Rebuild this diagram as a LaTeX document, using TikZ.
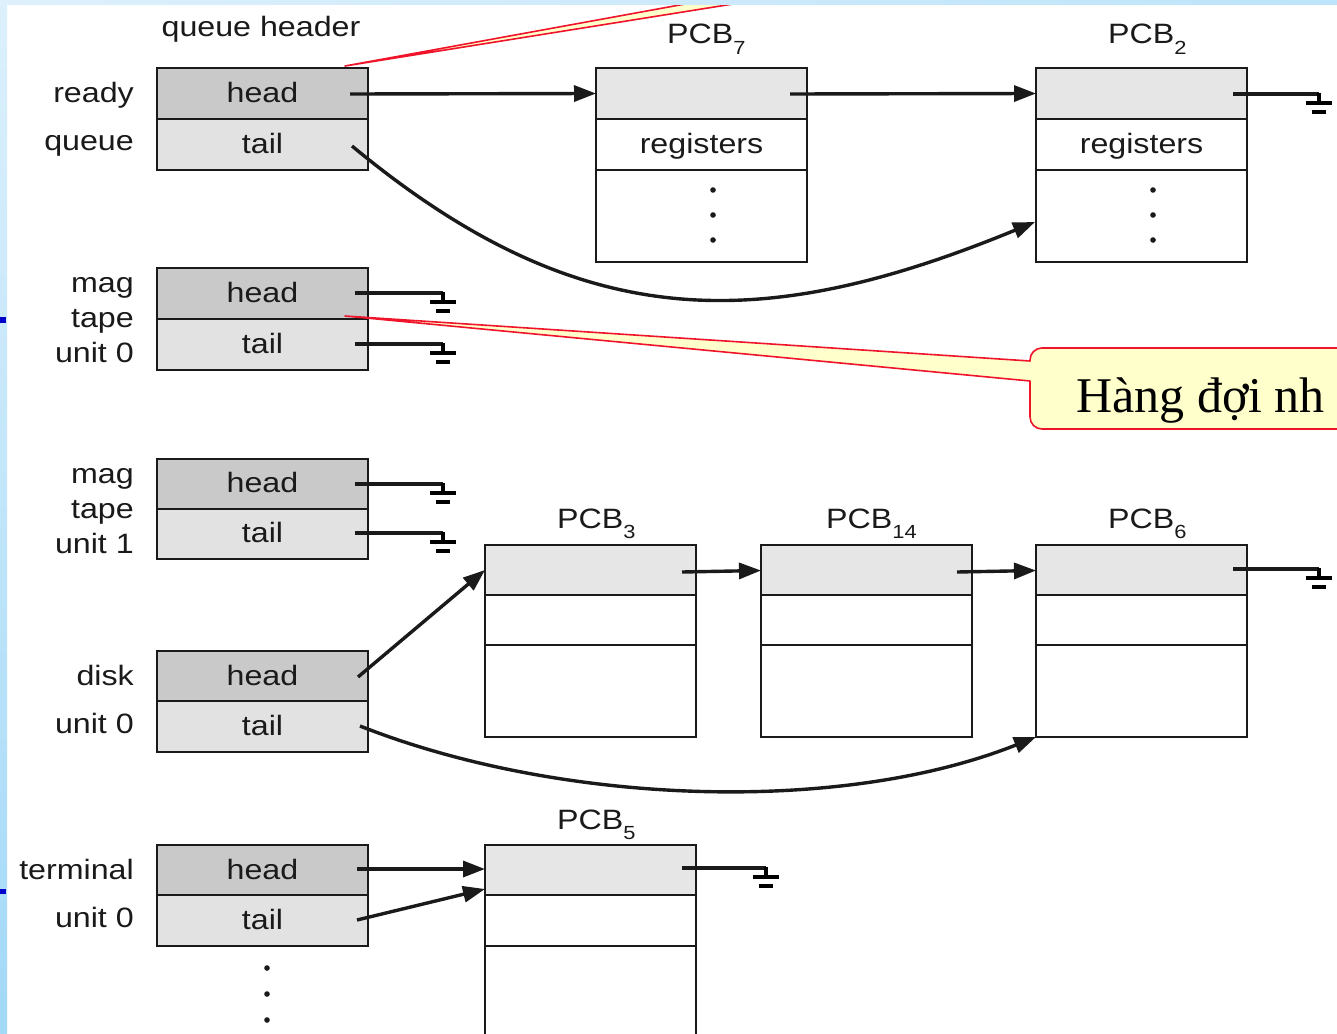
\documentclass[tikz,border=0pt]{standalone}
\usepackage{fontspec}
\setmainfont[FakeStretch=1.15]{Liberation Sans}
\newfontfamily\calloutfont{Liberation Serif}
\usetikzlibrary{arrows.meta}
\definecolor{hgray}{HTML}{C9C9C9}
\definecolor{tgray}{HTML}{E2E2E2}
\definecolor{pgray}{HTML}{E6E6E6}
\definecolor{ink}{HTML}{1A1A1A}
\definecolor{cyel}{HTML}{FFFFCC}
\definecolor{cred}{HTML}{F0142A}
\definecolor{slideblue}{HTML}{0000CC}
\definecolor{stripA}{HTML}{DDF0FC}
\definecolor{stripB}{HTML}{A3D9F7}
\definecolor{stripC}{HTML}{BDE4FA}
\tikzset{
  gnd/.pic={
    \draw[line width=3.2pt, line cap=butt] (0,-1.5) -- (0,9);
    \draw[line width=3.2pt] (-13,9) -- (13,9);
    \draw[line width=3.2pt] (-7,18) -- (7,18);
  }
}
\newcommand{\pcbname}[1]{PCB\raisebox{-0.36em}{\fontsize{19}{20}\selectfont #1}}
\begin{document}
\begin{tikzpicture}[x=1pt,y=-1pt,
  every node/.style={font=\fontsize{28}{31}\selectfont, text=ink},
  cell/.style={draw=ink, line width=2.8pt, anchor=north west, minimum width=211pt,
    inner sep=0pt, outer sep=0pt, text height=20pt, text depth=3pt},
  hcell/.style={cell, fill=hgray, minimum height=51pt},
  tcell/.style={cell, fill=tgray, minimum height=51pt},
  pcella/.style={cell, fill=pgray, minimum height=51pt},
  pcellb/.style={cell, fill=white, minimum height=51pt},
  pcellc/.style={cell, fill=white, minimum height=92pt},
  lab/.style={anchor=base east, inner sep=0pt},
  pcblab/.style={anchor=base west, inner sep=0pt},
  ptr/.style={draw=ink, line width=3.4pt},
  arr/.style={ptr, -{Triangle[length=22pt,width=16pt]}},
  callout/.style={draw=cred, fill=cyel, line width=1.6pt, line join=round},
  dotmark/.style={fill=ink, draw=none}
]
\useasboundingbox (0,0) rectangle (1337,1033);
\clip (0,0) rectangle (1337,1033);
\fill[white] (0,0) rectangle (1337,1033);

% ---- queue header column ----
\node[anchor=base, inner sep=0pt] (qh) at (261,37) {queue header};

\node[hcell] (rqh) at (157,68) {head};
\node[tcell] (rqt) at (157,119) {tail};
\node[lab] (l1) at (134,102) {ready};
\node[lab] (l2) at (134,150) {queue};

\node[hcell] (m0h) at (157,268) {head};
\node[tcell] (m0t) at (157,319) {tail};
\node[lab] (l3) at (134,292) {mag};
\node[lab] (l4) at (134,327) {tape};
\node[lab] (l5) at (134,362) {unit 0};

\node[hcell, minimum height=50pt] (m1h) at (157,459) {head};
\node[tcell, minimum height=50pt] (m1t) at (157,509) {tail};
\node[lab] (l6) at (134,483) {mag};
\node[lab] (l7) at (134,518) {tape};
\node[lab] (l8) at (134,553) {unit 1};

\node[hcell] (dh) at (157,651) {head};
\node[tcell] (dt) at (157,701) {tail};
\node[lab] (l9) at (134,685) {disk};
\node[lab] (l10) at (134,733) {unit 0};

\node[hcell] (th) at (157,845) {head};
\node[tcell] (tt) at (157,895) {tail};
\node[lab] (l11) at (134,879) {terminal};
\node[lab] (l12) at (134,927) {unit 0};

\fill[dotmark] (267,968) circle (2.8);
\fill[dotmark] (267,994) circle (2.8);
\fill[dotmark] (267,1020) circle (2.8);

% ---- PCBs ----
\node[pcblab] (n7) at (667,44) {\pcbname{7}};
\node[pcella] (p7a) at (596,68) {};
\node[pcellb] (p7b) at (596,119) {registers};
\node[pcellc] (p7c) at (596,170) {};
\fill[dotmark] (713,190) circle (2.8);
\fill[dotmark] (713,215) circle (2.8);
\fill[dotmark] (713,240) circle (2.8);

\node[pcblab] (n2) at (1108,44) {\pcbname{2}};
\node[pcella] (p2a) at (1036,68) {};
\node[pcellb] (p2b) at (1036,119) {registers};
\node[pcellc] (p2c) at (1036,170) {};
\fill[dotmark] (1153,190) circle (2.8);
\fill[dotmark] (1153,215) circle (2.8);
\fill[dotmark] (1153,240) circle (2.8);

\node[pcblab] (n3) at (557,528) {\pcbname{3}};
\node[pcella] (p3a) at (485,545) {};
\node[pcellb] (p3b) at (485,595) {};
\node[pcellc] (p3c) at (485,645) {};

\node[pcblab] (n14) at (826,528) {\pcbname{14}};
\node[pcella] (p14a) at (761,545) {};
\node[pcellb] (p14b) at (761,595) {};
\node[pcellc] (p14c) at (761,645) {};

\node[pcblab] (n6) at (1108,528) {\pcbname{6}};
\node[pcella] (p6a) at (1036,545) {};
\node[pcellb] (p6b) at (1036,595) {};
\node[pcellc] (p6c) at (1036,645) {};

\node[pcblab] (n5) at (557,829) {\pcbname{5}};
\node[pcella] (p5a) at (485,845) {};
\node[pcellb] (p5b) at (485,895) {};
\node[pcellc, minimum height=110pt] (p5c) at (485,946) {};

% ---- pointer start points and ground points ----
\coordinate (s1) at (350,94);
\coordinate (s2) at (352,146);
\coordinate (s3) at (790,94);
\coordinate (s4) at (1233,94);
\coordinate (g4) at (1319,94);
\coordinate (s5) at (355,293);
\coordinate (g5) at (443,293);
\coordinate (s6) at (355,344);
\coordinate (g6) at (443,344);
\coordinate (s7) at (355,484);
\coordinate (g7) at (443,484);
\coordinate (s8) at (355,533);
\coordinate (g8) at (443,533);
\coordinate (s9) at (358,677);
\coordinate (s10) at (360,726);
\coordinate (s11) at (682,572);
\coordinate (s12) at (957,572);
\coordinate (s13) at (1233,569);
\coordinate (g13) at (1319,569);
\coordinate (s14) at (357,869);
\coordinate (s15) at (357,920);
\coordinate (s16) at (682,868);
\coordinate (g16) at (766,868);
\coordinate (e2) at (1035,222);
\coordinate (e10) at (1036,737);
\coordinate (e9) at (485,570);
\coordinate (e15) at (485,889);
\coordinate (e14) at (485,869);

% ---- connectors ----
\draw[arr] (s1) -- (p7a.west);
\draw[arr] (s3) -- (p2a.west);
\draw[arr] (s2) .. controls (580,335) and (760,335) .. (e2);
\draw[ptr] (s4) -- (g4); \pic at (g4) {gnd};
\draw[ptr] (s5) -- (g5); \pic at (g5) {gnd};
\draw[ptr, line width=4pt] (s6) -- (g6); \pic at (g6) {gnd};
\draw[ptr] (s7) -- (g7); \pic at (g7) {gnd};
\draw[ptr] (s8) -- (g8); \pic at (g8) {gnd};
\draw[arr] (s9) -- (e9);
\draw[arr] (s10) .. controls (560,805) and (840,815) .. (e10);
\draw[arr] (s11) -- (p14a.west);
\draw[arr] (s12) -- (p6a.west);
\draw[ptr] (s13) -- (g13); \pic at (g13) {gnd};
\draw[arr] (s14) -- (e14);
\draw[arr] (s15) -- (e15);
\draw[ptr] (s16) -- (g16); \pic at (g16) {gnd};

% ---- callouts ----
\draw[callout] (345,66) -- (729,-4) -- (783,-4) -- cycle;
\draw[callout] (1030,361) -- (345,316) -- (1030,381)
  [rounded corners=12pt] -- (1030,429) -- (1370,429) -- (1370,348) -- (1030,348)
  [sharp corners] -- cycle;
\node[anchor=base west, inner sep=0pt, font=\calloutfont\fontsize{50}{54}\selectfont, text=black] (ct) at (1076,412) {Hàng đợi nh};

% ---- slide background strips ----
\shade[top color=stripA, bottom color=stripB] (0,0) rectangle (7,1033);
\shade[left color=stripA, right color=stripC] (0,0) rectangle (1337,5);
\fill[slideblue] (0,317) rectangle (6,323);
\fill[slideblue] (0,889) rectangle (6,894);
\end{tikzpicture}
\end{document}
